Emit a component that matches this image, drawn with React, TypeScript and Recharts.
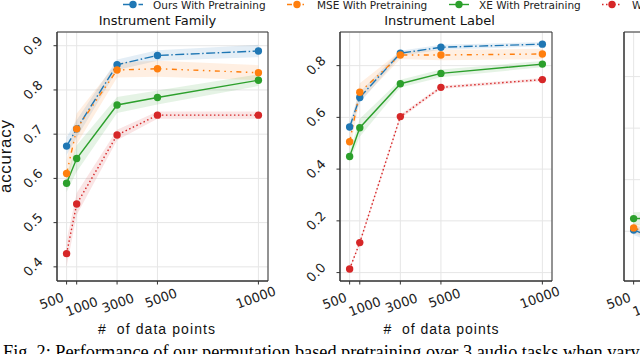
import React from 'react';
import { Area, CartesianGrid, ComposedChart, Line, ReferenceArea, XAxis, YAxis } from 'recharts';

// number of training data points (x axis)
const sizes = [500, 1000, 3000, 5000, 10000];
const sizeTicks = [500, 1000, 3000, 5000, 10000];

// Instrument Family
const famOurs = [0.673, 0.712, 0.857, 0.878, 0.888];
const famOursErr = [0.02, 0.02, 0.012, 0.012, 0.014];
const famMse = [0.611, 0.712, 0.845, 0.848, 0.839];
const famMseErr = [0.03, 0.035, 0.017, 0.018, 0.017];
const famXe = [0.589, 0.645, 0.766, 0.783, 0.822];
const famXeErr = [0.02, 0.03, 0.018, 0.016, 0.013];
const famNone = [0.43, 0.542, 0.698, 0.743, 0.743];
const famNoneErr = [0.03, 0.025, 0.012, 0.008, 0.008];

// Instrument Label
const lblOurs = [0.563, 0.677, 0.848, 0.871, 0.883];
const lblOursErr = [0.02, 0.02, 0.01, 0.01, 0.008];
const lblMse = [0.506, 0.697, 0.841, 0.841, 0.845];
const lblMseErr = [0.035, 0.035, 0.015, 0.02, 0.02];
const lblXe = [0.449, 0.56, 0.73, 0.77, 0.806];
const lblXeErr = [0.02, 0.035, 0.015, 0.015, 0.012];
const lblNone = [0.014, 0.116, 0.603, 0.716, 0.746];
const lblNoneErr = [0.005, 0.008, 0.008, 0.006, 0.006];

// third panel, only its left edge is in the picture
const p3Sizes = [500, 1000];
const p3Ours = [0.205, 0.19];
const p3OursErr = [0.02, 0.02];
const p3Mse = [0.213, 0.2];
const p3MseErr = [0.02, 0.02];
const p3Xe = [0.249, 0.25];
const p3XeErr = [0.025, 0.025];
const p3None = [null, null];
const p3NoneErr = [0, 0];

const famTicks = [0.4, 0.5, 0.6, 0.7, 0.8, 0.9];
const lblTicks = [0.0, 0.2, 0.4, 0.6, 0.8];
const p3Ticks = [0.2, 0.4, 0.6, 0.8];

const seriesKeys = ['ours', 'mse', 'xe', 'none'];
const seriesNames = ['Ours With Pretraining', 'MSE With Pretraining', 'XE With Pretraining', 'Without Pretraining'];
const seriesColors = ['#1f77b4', '#ff7f0e', '#2ca02c', '#d62728'];
const seriesDash = ['9 2.5 1.5 2.5', '5 4.5 1.5 4.5 1.5 4.5', undefined, '1.5 2.5'];

const X_DOMAIN = [25, 10475];

function buildRows(xs: number[], values: (number | null)[][], errs: number[][]) {
  return xs.map((n, i) => {
    const row: any = { n };
    seriesKeys.forEach((k, s) => {
      const v = values[s][i];
      row[k] = v;
      row[k + 'Band'] = v == null ? null : [v - errs[s][i], v + errs[s][i]];
    });
    return row;
  });
}

const famRows = buildRows(sizes, [famOurs, famMse, famXe, famNone], [famOursErr, famMseErr, famXeErr, famNoneErr]);
const lblRows = buildRows(sizes, [lblOurs, lblMse, lblXe, lblNone], [lblOursErr, lblMseErr, lblXeErr, lblNoneErr]);
const p3Rows = buildRows(p3Sizes, [p3Ours, p3Mse, p3Xe, p3None], [p3OursErr, p3MseErr, p3XeErr, p3NoneErr]);

// the 500/1000/3000 labels were nudged apart in the original figure
const xLabelShift: Record<number, [number, number]> = {
  500: [-15, 20],
  1000: [5, 25.5],
  3000: [1, 22],
  5000: [3.5, 17],
  10000: [-2.5, 16.5],
};

function XTick(props: any) {
  const { x, y, payload } = props;
  const [dx, dy] = xLabelShift[payload.value] ?? [0, 18];
  const cx = x + dx;
  const cy = y - 3.5 + dy;
  return (
    <text
      x={cx}
      y={cy}
      textAnchor="middle"
      dominantBaseline="central"
      transform={`rotate(-20, ${cx}, ${cy})`}
      fontFamily="DejaVu Sans"
      fontSize={13}
      fill="#222"
    >
      {payload.value}
    </text>
  );
}

function YTick(props: any) {
  const { x, y, payload } = props;
  const cx = x - 20.5;
  return (
    <text
      x={cx}
      y={y}
      textAnchor="middle"
      dominantBaseline="central"
      transform={`rotate(-45, ${cx}, ${y})`}
      fontFamily="DejaVu Sans"
      fontSize={13}
      fill="#222"
    >
      {Number(payload.value).toFixed(1)}
    </text>
  );
}

function Panel({ rows, yDomain, yTicks, left, width, marginLeft, marginRight, yAxisWidth, showY }: any) {
  return (
    <div style={{ position: 'absolute', left, top: 0 }}>
      <ComposedChart
        width={width}
        height={354}
        data={rows}
        margin={{ top: 32, right: marginRight, bottom: 33, left: marginLeft }}
      >
        <CartesianGrid stroke="#e6e6e6" strokeWidth={1} />
        <XAxis
          dataKey="n"
          type="number"
          domain={X_DOMAIN}
          ticks={sizeTicks}
          interval={0}
          allowDataOverflow
          height={40}
          tickSize={3.5}
          tickMargin={0}
          axisLine={{ stroke: '#333' }}
          tickLine={{ stroke: '#333' }}
          tick={(p: any) => <XTick {...p} />}
        />
        <YAxis
          type="number"
          domain={yDomain}
          ticks={yTicks}
          interval={0}
          allowDataOverflow
          width={yAxisWidth}
          tickSize={showY ? 3.5 : 0}
          tickMargin={0}
          axisLine={{ stroke: '#333' }}
          tickLine={showY ? { stroke: '#333' } : false}
          tick={(p: any) => (showY ? <YTick {...p} /> : <g />)}
        />
        {seriesKeys.map((k, s) => (
          <Area
            key={k + 'Band'}
            type="linear"
            dataKey={k + 'Band'}
            stroke="none"
            fill={seriesColors[s]}
            fillOpacity={0.12}
            dot={false}
            activeDot={false}
            legendType="none"
            isAnimationActive={false}
          />
        ))}
        {seriesKeys.map((k, s) => (
          <Line
            key={k}
            type="linear"
            dataKey={k}
            name={seriesNames[s]}
            stroke={seriesColors[s]}
            strokeWidth={1.4}
            strokeDasharray={seriesDash[s]}
            dot={{ r: 3.7, fill: seriesColors[s], stroke: 'none', strokeDasharray: '' }}
            activeDot={false}
            isAnimationActive={false}
          />
        ))}
        <ReferenceArea
          x1={X_DOMAIN[0]}
          x2={X_DOMAIN[1]}
          y1={yDomain[0]}
          y2={yDomain[1]}
          fill="none"
          stroke="#333"
          strokeWidth={1}
        />
      </ComposedChart>
    </div>
  );
}

const legendX = [123, 287, 449, 602];

function Overlay() {
  const label = { fontFamily: 'Liberation Sans', fill: '#111' };
  return (
    <svg width={640} height={354} style={{ position: 'absolute', left: 0, top: 0, pointerEvents: 'none' }}>
      {seriesNames.map((name, s) => (
        <g key={name}>
          <line
            x1={legendX[s]}
            x2={legendX[s] + 20}
            y1={4.5}
            y2={4.5}
            stroke={seriesColors[s]}
            strokeWidth={1.4}
            strokeDasharray={seriesDash[s]}
          />
          <circle cx={legendX[s] + 10} cy={4.5} r={3.7} fill={seriesColors[s]} />
          <text x={legendX[s] + 30} y={8.7} fontFamily="DejaVu Sans" fontSize={10.5} fill="#222">
            {name}
          </text>
        </g>
      ))}
      <text x={157.5} y={25} textAnchor="middle" fontFamily="DejaVu Sans" fontSize={13} fill="#111">
        Instrument Family
      </text>
      <text x={439.5} y={25} textAnchor="middle" fontFamily="DejaVu Sans" fontSize={13} fill="#111">
        Instrument Label
      </text>
      <text
        transform="translate(10.5, 156.5) rotate(-90)"
        textAnchor="middle"
        fontSize={17}
        textLength={73}
        {...label}
      >
        accuracy
      </text>
      <text x={156.5} y={334} textAnchor="middle" fontSize={14} textLength={117} style={{ whiteSpace: 'pre' }} {...label}>
        {'#  of data points'}
      </text>
      <text x={441} y={334} textAnchor="middle" fontSize={14} textLength={115} style={{ whiteSpace: 'pre' }} {...label}>
        {'#  of data points'}
      </text>
      <text x={3} y={358} fontFamily="Liberation Serif" fontSize={18.3} fill="#000">
        Fig. 2: Performance of our permutation based pretraining over 3 audio tasks when varying the number of data points
      </text>
    </svg>
  );
}

export default function App() {
  return (
    <div
      style={{
        position: 'absolute',
        left: 0,
        top: 0,
        width: 640,
        height: 354,
        overflow: 'hidden',
        background: '#fff',
      }}
    >
      <Panel
        rows={famRows}
        yDomain={[0.368, 0.931]}
        yTicks={famTicks}
        left={0}
        width={300}
        marginLeft={22}
        marginRight={32}
        yAxisWidth={35}
        showY
      />
      <Panel
        rows={lblRows}
        yDomain={[-0.0325, 0.93]}
        yTicks={lblTicks}
        left={300}
        width={300}
        marginLeft={5}
        marginRight={48}
        yAxisWidth={35}
        showY
      />
      <Panel
        rows={p3Rows}
        yDomain={[0.007, 0.973]}
        yTicks={p3Ticks}
        left={600}
        width={240}
        marginLeft={4}
        marginRight={4}
        yAxisWidth={20}
        showY={false}
      />
      <Overlay />
    </div>
  );
}
